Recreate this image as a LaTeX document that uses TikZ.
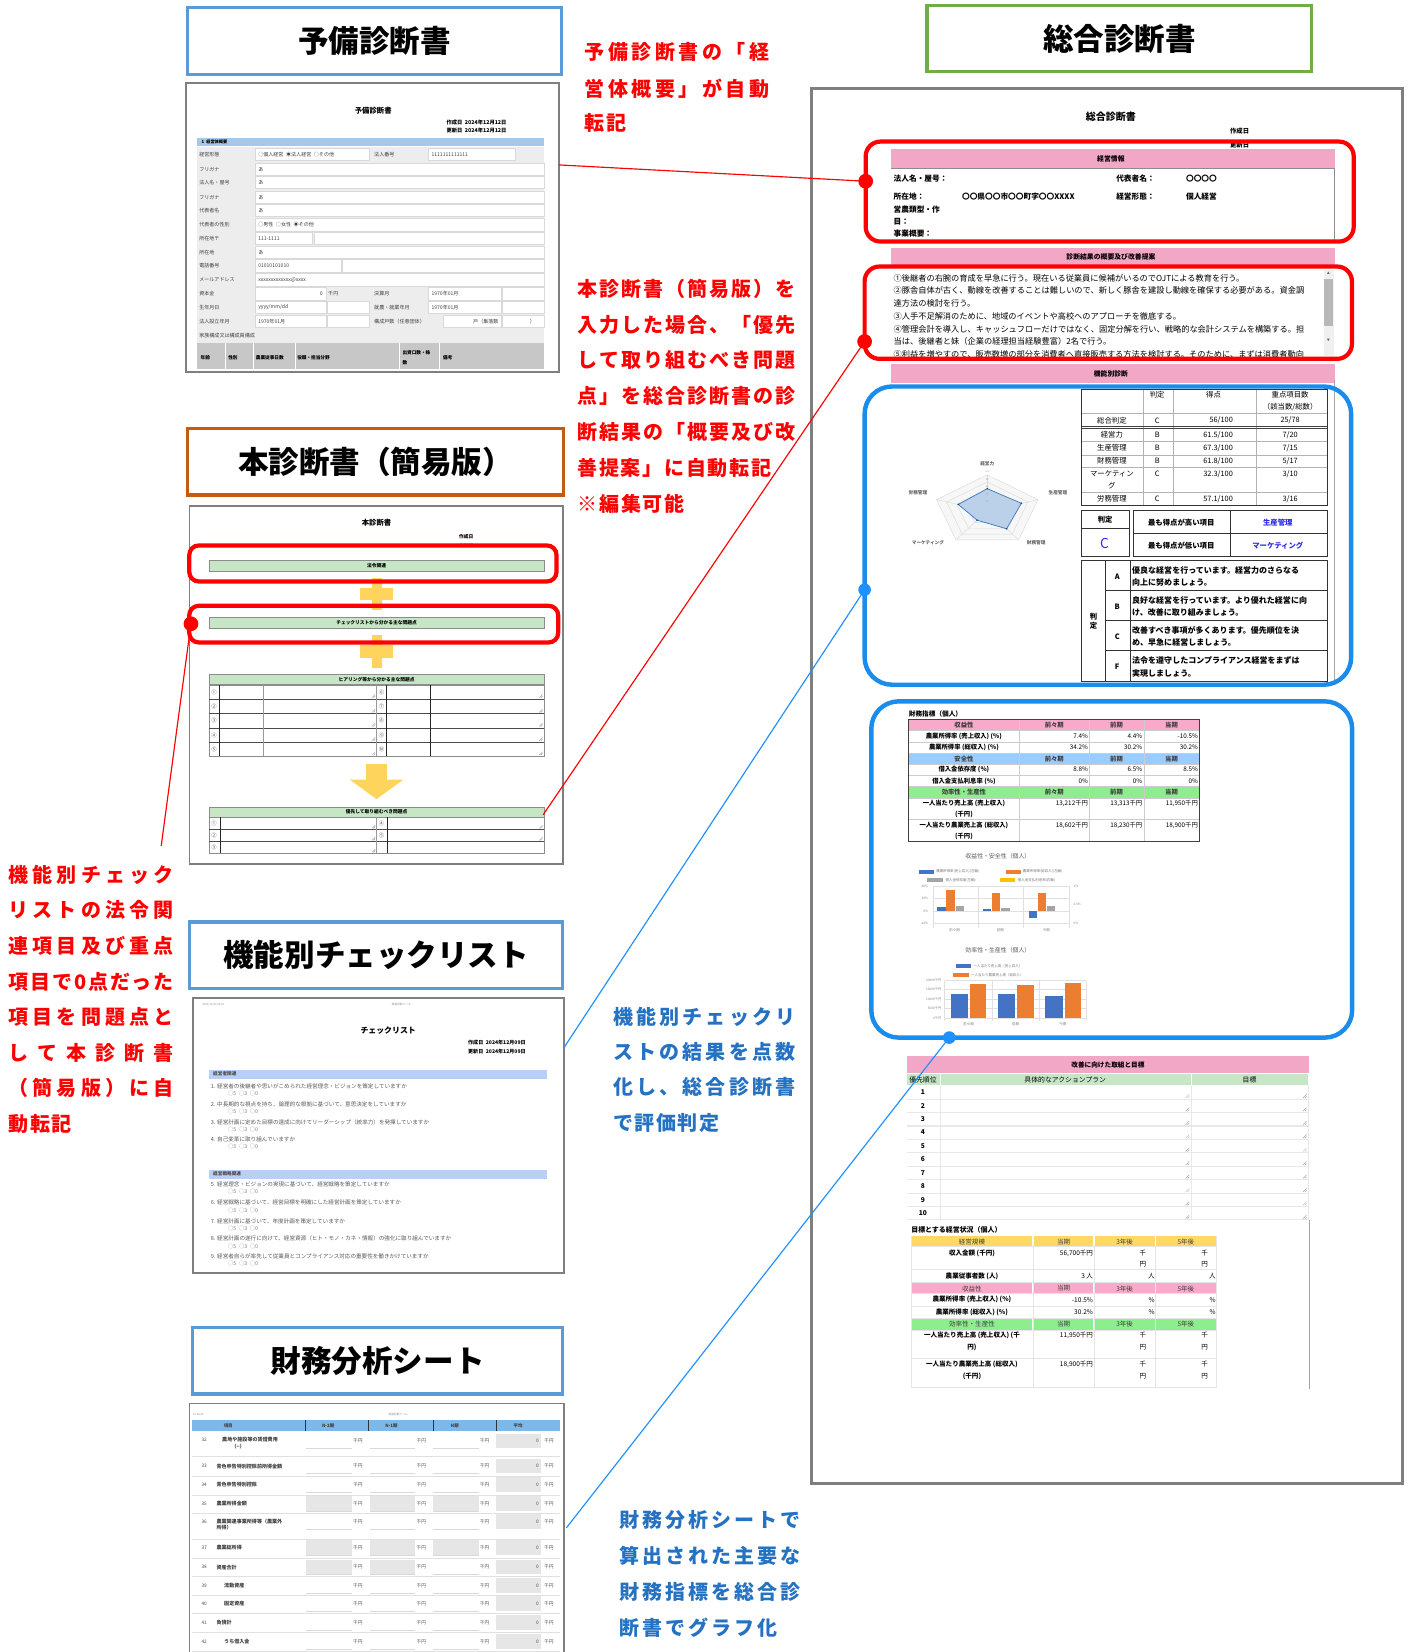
\documentclass[tikz,border=0pt]{standalone}
\usepackage{fontspec}
\setmainfont{Noto Sans CJK JP}
\newcommand\fsz[1]{\fontsize{#1}{#1}\selectfont}
\newcounter{tn}
\newcommand\TX[3][]{\stepcounter{tn}\node[txt,#1] (t\arabic{tn}) at #2 {#3};}
\def\sprA#1{#1\sprB}
\def\sprB#1{\ifx\relax#1\else\hfill#1\expandafter\sprB\fi}
\newcommand\spr[2]{\makebox[#1][s]{\sprA#2\relax}}
\definecolor{rred}{HTML}{FF0000}
\definecolor{tblue}{HTML}{5B9BD5}
\definecolor{torange}{HTML}{C55A11}
\definecolor{tgreen}{HTML}{70AD47}
\definecolor{bbox}{HTML}{1A8CEB}
\definecolor{bline}{HTML}{1E90FF}
\definecolor{btext}{HTML}{2572C2}
\definecolor{docgray}{HTML}{7F7F7F}
\definecolor{pinkh}{HTML}{F2A7C6}
\definecolor{lgreen}{HTML}{C6E6C6}
\definecolor{yel}{HTML}{FFD45C}
\definecolor{hblue}{HTML}{A4C8EC}
\definecolor{cblue}{HTML}{B8D0F8}
\definecolor{fpink}{HTML}{F9A9C9}
\definecolor{fblue}{HTML}{99CCFF}
\definecolor{fgreen}{HTML}{8CEE8C}
\definecolor{fyel}{HTML}{FFD966}
\definecolor{hdrblue}{HTML}{7DB8EA}
\definecolor{cellgray}{HTML}{E6E6E6}
\definecolor{cb}{HTML}{4472C4}
\definecolor{co}{HTML}{ED7D31}
\definecolor{cg}{HTML}{A5A5A5}
\definecolor{cy}{HTML}{FFC000}
\definecolor{jblue}{HTML}{2B2BF0}
\definecolor{radar}{HTML}{3E7CC0}
\tikzset{
  txt/.style={inner sep=0pt,outer sep=0pt},
  titlebox/.style={draw,line width=3.2pt,fill=white,inner sep=0pt,font=\fsz{29}\bfseries},
  thumb/.style={draw=docgray,line width=1.6pt},
  ann/.style={txt,anchor=west,font=\fsz{19}\bfseries},
  hl/.style={draw=rred,line width=4pt,rounded corners=12pt},
  bhl/.style={draw=bbox,line width=4.2pt,rounded corners=26pt},
  rconn/.style={draw=rred,line width=1.1pt},
  bconn/.style={draw=bline,line width=1.1pt},
  cell/.style={fill=white,draw=black!15,line width=0.3pt},
  rsz/.style={draw=black!45,line width=0.3pt},
}
\begin{document}
\begin{tikzpicture}[x=1pt,y=-1pt]
\useasboundingbox (0,0) rectangle (1336,1568);
\fill[white] (0,0) rectangle (1336,1568);

% ---------------- title boxes
\node[titlebox,draw=tblue,minimum width=355pt,minimum height=64pt] (ttl1) at (355.5,39) {予備診断書};
\node[titlebox,draw=torange,minimum width=357pt,minimum height=63pt] (ttl2) at (356.5,438.5) {本診断書（簡易版）};
\node[titlebox,draw=tblue,minimum width=354pt,minimum height=63pt] (ttl3) at (357,906.5) {機能別チェックリスト};
\node[titlebox,draw=tblue,minimum width=351pt,minimum height=63pt] (ttl4) at (358.5,1291.5) {財務分析シート};
\node[titlebox,draw=tgreen,minimum width=365pt,minimum height=63pt] (ttl5) at (1062.5,36.5) {総合診断書};

% ---------------- thumbnail 1 : 予備診断書
\begin{scope}[shift={(170.8,75.9)},scale=0.3163]
\fill[white] (19,10) rectangle (1138,876);
\TX[font=\fsz{7}\bfseries]{(580,92)}{予備診断書}
\TX[anchor=west,font=\fsz{5}\bfseries]{(800,127)}{作成日\enspace 2024年12月12日}
\TX[anchor=west,font=\fsz{5}\bfseries]{(800,152)}{更新日\enspace 2024年12月12日}
\fill[hblue] (52,173) rectangle (1093,198);
\TX[anchor=west,font=\fsz{4}\bfseries]{(65,186)}{1\enspace 経営体概要}
\fill[black!7] (52,200) rectangle (1093,790);
\foreach \y in {268,308,352,392,435,517,600}{\filldraw[cell] (225,\y-19) rectangle (1093,\y+18);}
\foreach \xa/\xb/\y in {225/568/223,745/1005/223,225/398/475,402/1093/475,225/485/558,488/1093/558,225/440/642,745/965/642,968/1093/642,225/440/683,443/568/683,745/965/683,968/1093/683,225/440/725,443/568/725,790/965/725,968/1093/725}{\filldraw[cell] (\xa,\y-19) rectangle (\xb,\y+18);}
\foreach \y/\q in {223/経営形態,268/フリガナ,308/法人名・屋号,352/フリガナ,392/代表者名,435/代表者の性別,475/所在地〒,517/所在地,558/電話番号,600/メールアドレス,642/資本金,683/生年月日,725/法人設立年月,768/家族構成又は構成員構成}{\TX[anchor=west,font=\fsz{4.8},text=black!75]{(58,\y)}{\q}}
\foreach \y in {268,308,352,392,517}{\TX[anchor=west,font=\fsz{4.8},text=black!75]{(235,\y)}{あ}}
\TX[anchor=west,font=\fsz{4.8},text=black!75]{(235,223)}{○個人経営\enspace◉法人経営\enspace○その他}
\TX[anchor=west,font=\fsz{4.8},text=black!75]{(583,223)}{法人番号}
\TX[anchor=west,font=\fsz{4.8},text=black!75]{(755,223)}{1111111111111}
\TX[anchor=west,font=\fsz{4.8},text=black!75]{(235,435)}{○男性\enspace○女性\enspace◉その他}
\TX[anchor=west,font=\fsz{4.8},text=black!75]{(235,475)}{111-1111}
\TX[anchor=west,font=\fsz{4.8},text=black!75]{(235,558)}{01010101010}
\TX[anchor=west,font=\fsz{4.8},text=black!75]{(235,600)}{xxxxxxxxxxxxx@xxxx}
\TX[anchor=east,font=\fsz{4.8},text=black!75]{(428,642)}{0}
\TX[anchor=west,font=\fsz{4.8},text=black!75]{(445,642)}{千円}
\TX[anchor=west,font=\fsz{4.8},text=black!75]{(583,642)}{決算月}
\TX[anchor=west,font=\fsz{4.8},text=black!75]{(755,642)}{1970年01月}
\TX[anchor=west,font=\fsz{4.8},text=black!75]{(235,683)}{yyyy/mm/dd}
\TX[anchor=west,font=\fsz{4.8},text=black!75]{(583,683)}{就農・就業年月}
\TX[anchor=west,font=\fsz{4.8},text=black!75]{(755,683)}{1970年01月}
\TX[anchor=west,font=\fsz{4.8},text=black!75]{(235,725)}{1970年01月}
\TX[anchor=west,font=\fsz{4.8},text=black!75]{(583,725)}{構成戸数（任意団体）}
\TX[anchor=west,font=\fsz{4.8},text=black!75]{(880,725)}{戸（集落数}
\TX[anchor=west,font=\fsz{4.8},text=black!75]{(1050,725)}{）}
\fill[black!22] (52,790) rectangle (1093,866);
\foreach \x in {135,220,345,660,780}{\draw[white,line width=0.8pt] (\x,790) -- (\x,866);}
\TX[anchor=west,font=\fsz{4.4}\bfseries]{(62,835)}{年齢}
\TX[anchor=west,font=\fsz{4.4}\bfseries]{(145,835)}{性別}
\TX[anchor=west,font=\fsz{4.4}\bfseries]{(228,835)}{農業従事日数}
\TX[anchor=west,font=\fsz{4.4}\bfseries]{(352,835)}{役職・担当分野}
\TX[anchor=west,font=\fsz{4.4}\bfseries]{(668,818)}{出資口数・株}
\TX[anchor=west,font=\fsz{4.4}\bfseries]{(668,848)}{数}
\TX[anchor=west,font=\fsz{4.4}\bfseries]{(790,835)}{備考}
\draw[thumb] (19,10) rectangle (1138,876);
\coordinate (r1s) at (1138,255);
\end{scope}

% ---------------- thumbnail 2 : 本診断書
\begin{scope}[shift={(170.8,474.4)},scale=0.3163]
\fill[white] (29,18) rectangle (1150,1092);
\TX[font=\fsz{7}\bfseries]{(590,70)}{本診断書}
\TX[anchor=west,font=\fsz{4.5}\bfseries]{(838,110)}{作成日}
\TX[anchor=west,font=\fsz{4.5}\bfseries,text=black!35]{(838,137)}{更新日}
\filldraw[fill=lgreen,draw=black!45,line width=0.5pt] (87,180) rectangle (1093,213);
\TX[font=\fsz{4.5}\bfseries]{(590,197)}{法令関連}
\fill[yel] (575,235) rectangle (605,332);
\fill[yel] (540,265) rectangle (640,302);
\filldraw[fill=lgreen,draw=black!45,line width=0.5pt] (87,352) rectangle (1093,384);
\TX[font=\fsz{4.5}\bfseries]{(590,368)}{チェックリストから分かる主な問題点}
\fill[yel] (575,405) rectangle (605,505);
\fill[yel] (540,437) rectangle (640,474);
\filldraw[fill=lgreen,draw=black!45,line width=0.5pt] (87,522) rectangle (1093,555);
\TX[font=\fsz{4.5}\bfseries]{(590,539)}{ヒアリング等から分かる主な問題点}
\draw[black!45,line width=0.6pt] (87,555) rectangle (1093,770);
\foreach \y in {600,642,685,728}{\draw[black!70,line width=0.7pt] (87,\y) -- (1093,\y);}
\foreach \x in {117,620,752}{\draw[black!85,line width=0.8pt] (\x,555) -- (\x,770);}
\foreach \x in {250,590}{\draw[black!40,line width=0.5pt] (\x,555) -- (\x,770);}
\foreach \y/\a/\b in {577/①/⑥,621/②/⑦,663/③/⑧,706/④/⑨,749/⑤/⑩}{
  \TX[font=\fsz{5},text=black!70]{(102,\y)}{\a}
  \TX[font=\fsz{5},text=black!70]{(605,\y)}{\b}
  \draw[rsz] (576,\y+17) -- (586,\y+7) (581,\y+17) -- (586,\y+12);
  \draw[rsz] (1078,\y+17) -- (1088,\y+7) (1083,\y+17) -- (1088,\y+12);}
\fill[yel] (558,793) rectangle (622,842);
\fill[yel] (510,840) -- (670,840) -- (590,898) -- cycle;
\filldraw[fill=lgreen,draw=black!45,line width=0.5pt] (87,922) rectangle (1093,952);
\TX[font=\fsz{4.5}\bfseries]{(590,937)}{優先して取り組むべき問題点}
\draw[black!45,line width=0.6pt] (87,952) rectangle (1093,1060);
\foreach \y in {990,1025}{\draw[black!70,line width=0.7pt] (87,\y) -- (1093,\y);}
\foreach \x in {120,622}{\draw[black!85,line width=0.8pt] (\x,952) -- (\x,1060);}
\draw[black!40,line width=0.5pt] (590,952) -- (590,1060);
\foreach \y/\a in {971/①,1007/②,1043/③}{\TX[font=\fsz{5},text=black!70]{(102,\y)}{\a}
  \draw[rsz] (576,\y+15) -- (586,\y+5) (581,\y+15) -- (586,\y+10);}
\foreach \y/\a in {971/④,1007/⑤}{\TX[font=\fsz{5},text=black!70]{(605,\y)}{\a}
  \draw[rsz] (1078,\y+15) -- (1088,\y+5) (1083,\y+15) -- (1088,\y+10);}
\draw[thumb] (29,18) rectangle (1150,1092);
\draw[hl,rounded corners=9pt] (28,137) rectangle (1130,245);
\draw[hl,rounded corners=9pt] (28,318) rectangle (1135,428);
\coordinate (r3s) at (33,372);
\coordinate (r2s) at (1090,945);
\end{scope}

% ---------------- thumbnail 3 : チェックリスト
\begin{scope}[shift={(175.5,944.0)},scale=0.3163]
\fill[white] (24,10) rectangle (1137,835);
\TX[font=\fsz{2.6},text=black!45]{(85,30)}{2024/12/10 15:16}
\TX[font=\fsz{2.6},text=black!45]{(650,30)}{経営診断ツール}
\TX[font=\fsz{7.5}\bfseries]{(610,108)}{チェックリスト}
\TX[anchor=west,font=\fsz{4.8}\bfseries]{(850,145)}{作成日\enspace 2024年12月09日}
\TX[anchor=west,font=\fsz{4.8}\bfseries]{(850,170)}{更新日\enspace 2024年12月09日}
\fill[cblue] (72,225) rectangle (1087,253);
\TX[anchor=west,font=\fsz{4.4}\bfseries,text=black!70]{(85,239)}{経営者関連}
\fill[cblue] (72,525) rectangle (1087,553);
\TX[anchor=west,font=\fsz{4.4}\bfseries,text=black!70]{(85,539)}{経営戦略関連}
\foreach \y/\q in {275/1. 経営者の後継者や思いがこめられた経営理念・ビジョンを策定していますか,330/2. 中長期的な視点を持ち、論理的な根拠に基づいて、意思決定をしていますか,383/3. 経営計画に定めた目標の達成に向けてリーダーシップ（統率力）を発揮していますか,435/4. 自己変革に取り組んでいますか,570/5. 経営理念・ビジョンの実現に基づいて、経営戦略を策定していますか,625/6. 経営戦略に基づいて、経営目標を明確にした経営計画を策定していますか,680/7. 経営計画に基づいて、年度計画を策定していますか,733/8. 経営計画の遂行に向けて、経営資源（ヒト・モノ・カネ・情報）の強化に取り組んでいますか,785/9. 経営者自らが率先して従業員とコンプライアンス対応の重要性を働きかけていますか}{
  \TX[anchor=west,font=\fsz{5.3},text=black!65]{(78,\y)}{\q}
  \TX[anchor=west,font=\fsz{5},text=black!50]{(130,\y+22)}{○5\enspace○3\enspace○0}}
\draw[thumb] (24,10) rectangle (1137,835);
\coordinate (b1s) at (1137,160);
\end{scope}

% ---------------- thumbnail 4 : 財務分析シート
\begin{scope}[shift={(175.5,1328.3)},scale=0.3163]
\fill[white] (14,12) rectangle (1137,780);
\TX[font=\fsz{2.6},text=black!45]{(40,45)}{10 16:30}
\TX[font=\fsz{2.6},text=black!45]{(640,45)}{経営診断ツール}
\fill[hdrblue] (20,62) rectangle (1125,95);
\foreach \x in {360,550,745,935}{\draw[black!80,line width=0.7pt] (\x,62) -- (\x,95);}
\foreach \x/\q in {130/項目,430/N-2期,620/N-1期,810/N期,1000/平均}{\TX[font=\fsz{4.2}\bfseries,text=black!75]{(\x,79)}{\q}}
\foreach \y in {172,232,288,342,420,477,532,587,643,700,757}{\draw[black!12,line width=1pt] (20,\y) -- (1125,\y);}
\foreach \y/\ca/\cb/\cc in {125/white/white/white,200/white/white/white,255/white/white/white,313/cellgray/cellgray/cellgray,367/white/white/white,445/cellgray/cellgray/cellgray,503/cellgray/cellgray/white,558/white/white/white,613/white/white/white,670/white/white/white,727/white/white/white}{
  \fill[\ca] (362,\y-22) rectangle (500,\y+22);
  \fill[\cb] (555,\y-22) rectangle (690,\y+22);
  \fill[\cc] (745,\y-22) rectangle (882,\y+22);
  \fill[cellgray] (935,\y-22) rectangle (1070,\y+22);
  \draw[black!15,line width=0.3pt] (362,\y+22) -- (500,\y+22) (555,\y+22) -- (690,\y+22) (745,\y+22) -- (882,\y+22);
  \TX[anchor=west,font=\fsz{4.5},text=black!70]{(505,\y)}{千円}
  \TX[anchor=west,font=\fsz{4.5},text=black!70]{(695,\y)}{千円}
  \TX[anchor=west,font=\fsz{4.5},text=black!70]{(885,\y)}{千円}
  \TX[anchor=east,font=\fsz{4.5},text=black!70]{(1062,\y)}{0}
  \TX[anchor=west,font=\fsz{4.5},text=black!70]{(1078,\y)}{千円}}
\foreach \n/\y in {32/120,33/200,34/255,35/313,36/367,37/445,38/503,39/558,40/613,41/670,42/727}{\TX[anchor=west,font=\fsz{4.5},text=black!70]{(50,\y)}{\n}}
\TX[anchor=west,font=\fsz{4.8}\bfseries,text=black!75]{(112,120)}{農地や施設等の賃借費用}
\TX[anchor=west,font=\fsz{4.8}\bfseries,text=black!75]{(140,140)}{（−）}
\TX[anchor=west,font=\fsz{4.8}\bfseries,text=black!75]{(95,367)}{農業関連事業所得等（農業外}
\TX[anchor=west,font=\fsz{4.8}\bfseries,text=black!75]{(95,384)}{所得）}
\foreach \y/\q in {200/青色申告特別控除前所得金額,255/青色申告特別控除,313/農業所得金額,445/農業総所得,503/資産合計,670/負債計}{\TX[anchor=west,font=\fsz{4.8}\bfseries,text=black!75]{(95,\y)}{\q}}
\foreach \y/\q in {558/流動資産,613/固定資産,727/うち借入金}{\TX[anchor=west,font=\fsz{4.8}\bfseries,text=black!75]{(118,\y)}{\q}}
\draw[thumb] (14,790) -- (14,12) -- (1137,12) -- (1137,790);
\coordinate (b2s) at (1145,385);
\end{scope}

% ---------------- annotations
\node[ann,text=rred] (a1) at (555,49) {\spr{175pt}{予備診断書の「経}};
\node[ann,text=rred] (a2) at (555,84) {\spr{175pt}{営体概要」が自動}};
\node[ann,text=rred] (a3) at (555,117) {\spr{40pt}{転記}};

\node[ann,text=rred] (a4) at (548,274) {\spr{207pt}{本診断書（簡易版）を}};
\node[ann,text=rred] (a5) at (548,308) {\spr{207pt}{入力した場合、「優先}};
\node[ann,text=rred] (a6) at (548,342) {\spr{207pt}{して取り組むべき問題}};
\node[ann,text=rred] (a7) at (548,376) {\spr{207pt}{点」を総合診断書の診}};
\node[ann,text=rred] (a8) at (548,410) {\spr{207pt}{断結果の「概要及び改}};
\node[ann,text=rred] (a9) at (548,444) {\spr{184pt}{善提案」に自動転記}};
\node[ann,text=rred] (a10) at (548,478) {\spr{102pt}{※編集可能}};

\node[ann,text=rred] (a11) at (8,830) {\spr{157pt}{機能別チェック}};
\node[ann,text=rred] (a12) at (8,864) {\spr{157pt}{リストの法令関}};
\node[ann,text=rred] (a13) at (8,898) {\spr{157pt}{連項目及び重点}};
\node[ann,text=rred] (a14) at (8,932) {\spr{157pt}{項目で0点だった}};
\node[ann,text=rred] (a15) at (8,965) {\spr{157pt}{項目を問題点と}};
\node[ann,text=rred] (a16) at (8,999) {\spr{157pt}{して本診断書}};
\node[ann,text=rred] (a17) at (8,1033) {\spr{157pt}{（簡易版）に自}};
\node[ann,text=rred] (a18) at (8,1067) {\spr{60pt}{動転記}};

\node[ann,text=btext] (a19) at (582,965) {\spr{173pt}{機能別チェックリ}};
\node[ann,text=btext] (a20) at (582,998) {\spr{173pt}{ストの結果を点数}};
\node[ann,text=btext] (a21) at (582,1032) {\spr{173pt}{化し、総合診断書}};
\node[ann,text=btext] (a22) at (582,1066) {\spr{101pt}{で評価判定}};

\node[ann,text=btext] (a23) at (588,1443) {\spr{172pt}{財務分析シートで}};
\node[ann,text=btext] (a24) at (588,1477) {\spr{172pt}{算出された主要な}};
\node[ann,text=btext] (a25) at (588,1511) {\spr{172pt}{財務指標を総合診}};
\node[ann,text=btext] (a26) at (588,1545) {\spr{150pt}{断書でグラフ化}};

% ---------------- big document
\draw[docgray,line width=2.5pt,fill=white] (770,84) rectangle (1331,1408);

% top part
\begin{scope}[shift={(768.5,80.6)},xscale=0.3364,yscale=0.3163]
\TX[font=\fsz{9.5}\bfseries]{(850,95)}{総合診断書}
\TX[font=\fsz{6}\bfseries]{(1213,140)}{作成日}
\TX[font=\fsz{6}\bfseries]{(1213,180)}{更新日}
\fill[pinkh] (230,192) rectangle (1483,250);
\draw[black!45,line width=0.4pt] (230,250) -- (1483,250) (1480,250) -- (1480,466);
\TX[font=\fsz{6.5}\bfseries]{(850,222)}{経営情報}
\TX[anchor=west,font=\fsz{7.3}\bfseries]{(237,280)}{法人名・屋号：}
\TX[anchor=west,font=\fsz{7.3}\bfseries]{(865,280)}{代表者名：}
\TX[anchor=west,font=\fsz{7.3}\bfseries]{(1062,280)}{〇〇〇〇}
\TX[anchor=west,font=\fsz{7.3}\bfseries]{(237,335)}{所在地：}
\TX[anchor=west,font=\fsz{7.3}\bfseries]{(430,335)}{〇〇県〇〇市〇〇町字〇〇XXXX}
\TX[anchor=west,font=\fsz{7.3}\bfseries]{(865,335)}{経営形態：}
\TX[anchor=west,font=\fsz{7.3}\bfseries]{(1062,335)}{個人経営}
\TX[anchor=west,font=\fsz{7.3}\bfseries]{(237,373)}{営農類型・作}
\TX[anchor=west,font=\fsz{7.3}\bfseries]{(237,410)}{目：}
\TX[anchor=west,font=\fsz{7.3}\bfseries]{(237,447)}{事業概要：}
\fill[pinkh] (230,490) rectangle (1483,543);
\TX[font=\fsz{6.5}\bfseries]{(850,516)}{診断結果の概要及び改善提案}
\begin{scope}
\clip (230,548) rectangle (1445,814);
\TX[anchor=west,font=\fsz{7.8}]{(237,580)}{①後継者の右腕の育成を早急に行う。現在いる従業員に候補がいるのでOJTによる教育を行う。}
\TX[anchor=west,font=\fsz{7.8}]{(237,618)}{②豚舎自体が古く、動線を改善することは難しいので、新しく豚舎を建設し動線を確保する必要がある。資金調}
\TX[anchor=west,font=\fsz{7.8}]{(237,657)}{達方法の検討を行う。}
\TX[anchor=west,font=\fsz{7.8}]{(237,695)}{③人手不足解消のために、地域のイベントや高校へのアプローチを徹底する。}
\TX[anchor=west,font=\fsz{7.8}]{(237,733)}{④管理会計を導入し、キャッシュフローだけではなく、固定分解を行い、戦略的な会計システムを構築する。担}
\TX[anchor=west,font=\fsz{7.8}]{(237,770)}{当は、後継者と妹（企業の経理担当経験豊富）2名で行う。}
\TX[anchor=west,font=\fsz{7.8}]{(237,808)}{⑤利益を増やすので、販売数増の部分を消費者へ直接販売する方法を検討する。そのために、まずは消費者動向}
\end{scope}
\fill[black!6] (1450,555) rectangle (1478,812);
\fill[black!28] (1452,582) rectangle (1476,722);
\TX[font=\fsz{3},text=black!60]{(1464,566)}{▲}
\TX[font=\fsz{3},text=black!60]{(1464,767)}{▼}
\fill[pinkh] (230,838) rectangle (1483,895);
\TX[font=\fsz{6.5}\bfseries]{(850,866)}{機能別診断}
\draw[hl,rounded corners=14pt] (158,170) rectangle (1535,470);
\draw[hl,rounded corners=14pt] (155,545) rectangle (1530,822);
\coordinate (r1e) at (158,289);
\coordinate (r2e) at (155,770);
\end{scope}

% 機能別診断 part
\begin{scope}[shift={(815.9,360.5)},scale=0.3163]
\draw[black!35,line width=0.4pt] (1425,0) -- (1425,915);
\begin{scope}[shift={(383,393)},xscale=160,yscale=-108]
\fill[black!3] (90:1) -- (18:1) -- (-54:1) -- (-126:1) -- (162:1) -- cycle;
\foreach \r in {0.2,0.4,0.6,0.8,1}{\draw[black!15,line width=0.4pt] (90:\r) -- (18:\r) -- (-54:\r) -- (-126:\r) -- (162:\r) -- cycle;}
\foreach \a in {90,18,-54,-126,162}{\draw[black!15,line width=0.4pt] (0,0) -- (\a:1);}
\filldraw[fill=radar!35,draw=radar,line width=0.7pt] (90:0.615) -- (18:0.673) -- (-54:0.618) -- (-126:0.323) -- (162:0.571) -- cycle;
\foreach \a/\r in {90/0.615,18/0.673,-54/0.618,-126/0.323,162/0.571}{\stepcounter{tn}\node[circle,fill=radar!70!black,inner sep=0pt,minimum size=1.8pt] (t\arabic{tn}) at (\a:\r) {};}
\end{scope}
\foreach \y/\q in {277/100,300/80,322/60,345/40,367/20}{\TX[font=\fsz{2.2},text=black!35]{(383,\y)}{\q}}
\TX[font=\fsz{4.4}\bfseries,text=black!60]{(383,253)}{経営力}
\TX[font=\fsz{4.4}\bfseries,text=black!60]{(595,340)}{生産管理}
\TX[font=\fsz{4.4}\bfseries,text=black!60]{(530,490)}{財務管理}
\TX[font=\fsz{4.4}\bfseries,text=black!60]{(205,490)}{マーケティング}
\TX[font=\fsz{4.4}\bfseries,text=black!60]{(175,340)}{労務管理}
\foreach \x in {850,940,1190}{\draw[black!30,line width=0.4pt] (\x,28) -- (\x,378);}
\foreach \y in {100,185,225,262,338}{\draw[black!30,line width=0.4pt] (665,\y) -- (1403,\y);}
\draw[black!75,line width=0.7pt] (665,140) -- (1403,140) (665,146) -- (1403,146);
\draw[black!80,line width=1pt] (665,28) rectangle (1403,378);
\TX[font=\fsz{7}]{(893,45)}{判定}
\TX[font=\fsz{7}]{(1062,45)}{得点}
\TX[font=\fsz{7}]{(1292,45)}{重点項目数}
\TX[font=\fsz{7}]{(1292,82)}{（該当数/総数）}
\foreach \y/\q/\j/\s/\n in {122/総合判定/C/{56/100}/{25/78},165/経営力/B/{61.5/100}/{7/20},205/生産管理/B/{67.3/100}/{7/15},243/財務管理/B/{61.8/100}/{5/17},282/マーケティン/C/{32.3/100}/{3/10},358/労務管理/C/{57.1/100}/{3/16}}{
  \TX[font=\fsz{7}]{(757,\y)}{\q}
  \TX[font=\fsz{7}]{(893,\y)}{\j}
  \TX[anchor=east,font=\fsz{7}]{(1120,\y)}{\s}
  \TX[font=\fsz{7}]{(1292,\y)}{\n}}
\TX[font=\fsz{7}]{(757,318)}{グ}
\draw[black!80,line width=1pt] (665,393) rectangle (810,530);
\draw[black!80,line width=0.8pt] (665,445) -- (810,445);
\TX[font=\fsz{7}\bfseries]{(737,420)}{判定}
\TX[font=\fsz{13},text=jblue]{(735,490)}{C}
\draw[black!80,line width=1pt] (822,393) rectangle (1403,530);
\draw[black!80,line width=0.8pt] (822,462) -- (1403,462) (1112,393) -- (1112,530);
\TX[font=\fsz{7}\bfseries]{(965,428)}{最も得点が高い項目}
\TX[font=\fsz{7}\bfseries]{(965,497)}{最も得点が低い項目}
\TX[font=\fsz{7}\bfseries,text=jblue]{(1255,428)}{生産管理}
\TX[font=\fsz{7}\bfseries,text=jblue]{(1255,497)}{マーケティング}
\draw[black!80,line width=1pt] (665,543) rectangle (1403,905);
\draw[black!80,line width=0.8pt] (738,543) -- (738,905) (812,543) -- (812,905);
\foreach \y in {633,723,813}{\draw[black!80,line width=0.8pt] (738,\y) -- (1403,\y);}
\TX[font=\fsz{7}\bfseries]{(702,712)}{判}
\TX[font=\fsz{7}\bfseries]{(702,738)}{定}
\foreach \y/\g in {590/A,680/B,770/C,860/F}{\TX[font=\fsz{7}\bfseries]{(773,\y)}{\g}}
\TX[anchor=west,font=\fsz{7.6}\bfseries]{(818,572)}{優良な経営を行っています。経営力のさらなる}
\TX[anchor=west,font=\fsz{7.6}\bfseries]{(818,608)}{向上に努めましょう。}
\TX[anchor=west,font=\fsz{7.6}\bfseries]{(818,662)}{良好な経営を行っています。より優れた経営に向}
\TX[anchor=west,font=\fsz{7.6}\bfseries]{(818,698)}{け、改善に取り組みましょう。}
\TX[anchor=west,font=\fsz{7.6}\bfseries]{(818,752)}{改善すべき事項が多くあります。優先順位を決}
\TX[anchor=west,font=\fsz{7.6}\bfseries]{(818,788)}{め、早急に経営しましょう。}
\TX[anchor=west,font=\fsz{7.6}\bfseries]{(818,842)}{法令を遵守したコンプライアンス経営をまずは}
\TX[anchor=west,font=\fsz{7.6}\bfseries]{(818,880)}{実現しましょう。}
\draw[bhl] (15,20) rectangle (1475,915);
\coordinate (b1e) at (15,630);
\end{scope}

% financial part
\begin{scope}[shift={(825.4,664.1)},scale=0.3163]
\TX[anchor=west,font=\fsz{6.3}\bfseries]{(118,42)}{財務指標（個人）}
\fill[fpink] (118,60) rectangle (990,93);
\fill[fblue] (118,161) rectangle (990,193);
\fill[fgreen] (118,261) rectangle (990,295);
\foreach \y in {93,127,161,193,227,261,295,358}{\draw[black!20,line width=0.5pt] (118,\y) -- (990,\y);}
\foreach \x in {448,660,823}{\draw[black!20,line width=0.5pt] (\x,60) -- (\x,425);}
\draw[black!75,line width=1pt] (118,60) rectangle (990,425);
\foreach \y/\q in {77/収益性,177/安全性,278/効率性・生産性}{
  \TX[font=\fsz{6}\bfseries,text=black!75]{(283,\y)}{\q}
  \TX[font=\fsz{6}\bfseries,text=black!75]{(554,\y)}{前々期}
  \TX[font=\fsz{6}\bfseries,text=black!75]{(741,\y)}{前期}
  \TX[font=\fsz{6}\bfseries,text=black!75]{(906,\y)}{当期}}
\TX[font=\fsz{6}\bfseries]{(283,110)}{農業所得率 (売上収入) (\%)}
\TX[font=\fsz{6}\bfseries]{(283,144)}{農業所得率 (総収入) (\%)}
\TX[font=\fsz{6}\bfseries]{(283,210)}{借入金依存度 (\%)}
\TX[font=\fsz{6}\bfseries]{(283,244)}{借入金支払利息率 (\%)}
\TX[font=\fsz{6}\bfseries]{(283,312)}{一人当たり売上高 (売上収入)}
\TX[font=\fsz{6}\bfseries]{(283,344)}{(千円)}
\TX[font=\fsz{6}\bfseries]{(283,377)}{一人当たり農業売上高 (総収入)}
\TX[font=\fsz{6}\bfseries]{(283,409)}{(千円)}
\TX[anchor=east,font=\fsz{6}]{(655,110)}{7.4\%}
\TX[anchor=east,font=\fsz{6}]{(818,110)}{4.4\%}
\TX[anchor=east,font=\fsz{6}]{(985,110)}{-10.5\%}
\TX[anchor=east,font=\fsz{6}]{(655,144)}{34.2\%}
\TX[anchor=east,font=\fsz{6}]{(818,144)}{30.2\%}
\TX[anchor=east,font=\fsz{6}]{(985,144)}{30.2\%}
\TX[anchor=east,font=\fsz{6}]{(655,210)}{8.8\%}
\TX[anchor=east,font=\fsz{6}]{(818,210)}{6.5\%}
\TX[anchor=east,font=\fsz{6}]{(985,210)}{8.5\%}
\TX[anchor=east,font=\fsz{6}]{(655,244)}{0\%}
\TX[anchor=east,font=\fsz{6}]{(818,244)}{0\%}
\TX[anchor=east,font=\fsz{6}]{(985,244)}{0\%}
\TX[anchor=east,font=\fsz{6}]{(655,312)}{13,212千円}
\TX[anchor=east,font=\fsz{6}]{(818,312)}{13,313千円}
\TX[anchor=east,font=\fsz{6}]{(985,312)}{11,950千円}
\TX[anchor=east,font=\fsz{6}]{(655,377)}{18,602千円}
\TX[anchor=east,font=\fsz{6}]{(818,377)}{18,230千円}
\TX[anchor=east,font=\fsz{6}]{(985,377)}{18,900千円}
\TX[font=\fsz{5.6},text=black!65]{(385,470)}{収益性・安全性（個人）}
\fill[cb] (147,510) rectangle (193,522);
\TX[anchor=west,font=\fsz{3.3},text=black!55]{(200,516)}{農業所得率(売上収入)(左軸)}
\fill[co] (408,510) rectangle (453,522);
\TX[anchor=west,font=\fsz{3.3},text=black!55]{(460,516)}{農業所得率(総収入)(左軸)}
\fill[cg] (173,535) rectangle (220,547);
\TX[anchor=west,font=\fsz{3.3},text=black!55]{(228,541)}{借入金依存度(左軸)}
\fill[cy] (390,535) rectangle (437,547);
\TX[anchor=west,font=\fsz{3.3},text=black!55]{(445,541)}{借入金支払利息率(右軸)}
\foreach \y in {560,597,635,672}{\draw[black!12,line width=0.4pt] (190,\y) -- (600,\y);}
\foreach \x in {190,325,462,600}{\draw[black!12,line width=0.4pt] (\x,560) -- (\x,685);}
\foreach \y/\q in {560/40\%,597/20\%,635/0\%,672/-20\%}{\TX[anchor=east,font=\fsz{3},text=black!50]{(175,\y)}{\q}}
\foreach \y/\q in {560/1\%,615/0.5\%,672/0\%}{\TX[anchor=west,font=\fsz{3},text=black!50]{(612,\y)}{\q}}
\fill[cb] (203,622) rectangle (228,635);
\fill[co] (230,572) rectangle (255,635);
\fill[cg] (258,620) rectangle (283,635);
\fill[cb] (340,628) rectangle (365,635);
\fill[co] (367,580) rectangle (392,635);
\fill[cg] (395,625) rectangle (420,635);
\fill[cb] (478,635) rectangle (502,655);
\fill[co] (505,580) rectangle (530,635);
\fill[cg] (532,620) rectangle (557,635);
\TX[font=\fsz{3.3},text=black!50]{(255,693)}{前々期}
\TX[font=\fsz{3.3},text=black!50]{(392,693)}{前期}
\TX[font=\fsz{3.3},text=black!50]{(530,693)}{今期}
\TX[font=\fsz{5.6},text=black!65]{(385,752)}{効率性・生産性（個人）}
\fill[cb] (258,793) rectangle (305,805);
\TX[anchor=west,font=\fsz{3.3},text=black!55]{(312,799)}{一人当たり売上高（売上収入）}
\fill[co] (250,820) rectangle (297,832);
\TX[anchor=west,font=\fsz{3.3},text=black!55]{(305,826)}{一人当たり農業売上高（総収入）}
\foreach \y/\q in {843/20000千円,870/15000千円,898/10000千円,926/5000千円,955/0千円}{
  \draw[black!12,line width=0.4pt] (225,\y) -- (650,\y);
  \TX[anchor=east,font=\fsz{3},text=black!50]{(215,\y)}{\q}}
\foreach \x in {225,368,510,650}{\draw[black!12,line width=0.4pt] (\x,843) -- (\x,965);}
\fill[cb] (243,882) rectangle (295,955);
\fill[co] (300,853) rectangle (350,955);
\fill[cb] (385,882) rectangle (437,955);
\fill[co] (442,855) rectangle (492,955);
\fill[cb] (527,889) rectangle (580,955);
\fill[co] (585,851) rectangle (635,955);
\TX[font=\fsz{3.3},text=black!50]{(297,975)}{前々期}
\TX[font=\fsz{3.3},text=black!50]{(438,975)}{前期}
\TX[font=\fsz{3.3},text=black!50]{(580,975)}{今期}
\draw[bhl] (5,5) rectangle (1448,1014);
\coordinate (b2e) at (239,1014);
\end{scope}

% improvement part
\begin{scope}[shift={(853.9,996.2)},scale=0.3163]
\fill[pinkh] (22,20) rectangle (1228,70);
\TX[font=\fsz{6.3}\bfseries]{(625,46)}{改善に向けた取組と目標}
\fill[lgreen] (22,72) rectangle (120,107);
\fill[lgreen] (123,72) rectangle (873,107);
\fill[lgreen] (877,72) rectangle (1225,107);
\TX[font=\fsz{6.5}]{(70,90)}{優先順位}
\TX[font=\fsz{6.5}]{(497,90)}{具体的なアクションプラン}
\TX[font=\fsz{6.5}]{(1050,90)}{目標}
\fill[black!9] (22,108) rectangle (1228,512);
\foreach \i in {1,...,10}{
  \pgfmathsetmacro\yt{108+(\i-1)*40.3}
  \fill[white] (22,\yt+2) rectangle (120,\yt+39);
  \fill[white] (123,\yt+2) rectangle (873,\yt+39);
  \fill[white] (877,\yt+2) rectangle (1225,\yt+39);
  \draw[rsz] (858,\yt+37) -- (869,\yt+26) (864,\yt+37) -- (869,\yt+32);
  \draw[rsz] (1210,\yt+37) -- (1221,\yt+26) (1216,\yt+37) -- (1221,\yt+32);
  \TX[font=\fsz{6.3}\bfseries]{(70,\yt+20)}{\i}}
\draw[black!35,line width=0.5pt] (1228,510) -- (1228,1020);
\TX[anchor=west,font=\fsz{6.6}\bfseries]{(35,540)}{目標とする経営状況（個人）}
\fill[fyel] (35,560) rectangle (950,592);
\fill[fpink] (35,700) rectangle (950,733);
\fill[fgreen] (35,806) rectangle (950,842);
\foreach \x in {400,583,768}{\draw[white,line width=1.2pt] (\x,560) -- (\x,1015);}
\foreach \y in {592,660,700,733,770,806,842,928,1015}{\draw[black!10,line width=0.8pt] (35,\y) -- (950,\y);}
\draw[black!10,line width=0.8pt] (35,560) -- (35,1015) (950,560) -- (950,1015);
\foreach \x in {400,583,768}{\draw[black!10,line width=0.5pt] (\x,592) -- (\x,1015);}
\foreach \y/\q in {576/経営規模,717/収益性,824/効率性・生産性}{
  \TX[font=\fsz{6.2},text=black!75]{(217,\y)}{\q}
  \TX[font=\fsz{6.2},text=black!75]{(492,\y)}{当期}
  \TX[font=\fsz{6.2},text=black!75]{(675,\y)}{3年後}
  \TX[font=\fsz{6.2},text=black!75]{(859,\y)}{5年後}}
\TX[font=\fsz{6.2}\bfseries]{(217,612)}{収入金額 (千円)}
\TX[font=\fsz{6.2}\bfseries]{(217,680)}{農業従事者数 (人)}
\TX[font=\fsz{6.2}\bfseries]{(217,751)}{農業所得率 (売上収入) (\%)}
\TX[font=\fsz{6.2}\bfseries]{(217,788)}{農業所得率 (総収入) (\%)}
\TX[font=\fsz{6.2}\bfseries]{(217,858)}{一人当たり売上高 (売上収入) (千}
\TX[font=\fsz{6.2}\bfseries]{(217,893)}{円)}
\TX[font=\fsz{6.2}\bfseries]{(217,945)}{一人当たり農業売上高 (総収入)}
\TX[font=\fsz{6.2}\bfseries]{(217,980)}{(千円)}
\TX[anchor=east,font=\fsz{6.2}]{(580,612)}{56,700千円}
\TX[anchor=east,font=\fsz{6.2}]{(580,680)}{3 人}
\TX[anchor=east,font=\fsz{6.2}]{(580,751)}{-10.5\%}
\TX[anchor=east,font=\fsz{6.2}]{(580,788)}{30.2\%}
\TX[anchor=east,font=\fsz{6.2}]{(580,858)}{11,950千円}
\TX[anchor=east,font=\fsz{6.2}]{(580,945)}{18,900千円}
\foreach \x in {730,915}{
  \TX[font=\fsz{6.2}]{(\x,612)}{千}
  \TX[font=\fsz{6.2}]{(\x,645)}{円}
  \TX[font=\fsz{6.2}]{(\x,858)}{千}
  \TX[font=\fsz{6.2}]{(\x,893)}{円}
  \TX[font=\fsz{6.2}]{(\x,945)}{千}
  \TX[font=\fsz{6.2}]{(\x,980)}{円}}
\foreach \x in {765,948}{
  \TX[anchor=east,font=\fsz{6.2}]{(\x,680)}{人}
  \TX[anchor=east,font=\fsz{6.2}]{(\x,751)}{\%}
  \TX[anchor=east,font=\fsz{6.2}]{(\x,788)}{\%}}
\end{scope}

% ---------------- connectors
\draw[rconn] (r1s) -- (r1e);
\draw[rconn] (r2s) -- (r2e);
\coordinate (r3e) at (153,803);
\draw[rconn] (r3s) -- (r3e);
\draw[bconn] (b1s) -- (b1e);
\draw[bconn] (b2s) -- (b2e);
\fill[rred] (r1e) circle (7);
\fill[rred] (r2e) circle (7);
\fill[rred] (r3s) circle (7);
\fill[bline] (b1e) circle (6);
\fill[bline] (b2e) circle (6);
\end{tikzpicture}
\end{document}
